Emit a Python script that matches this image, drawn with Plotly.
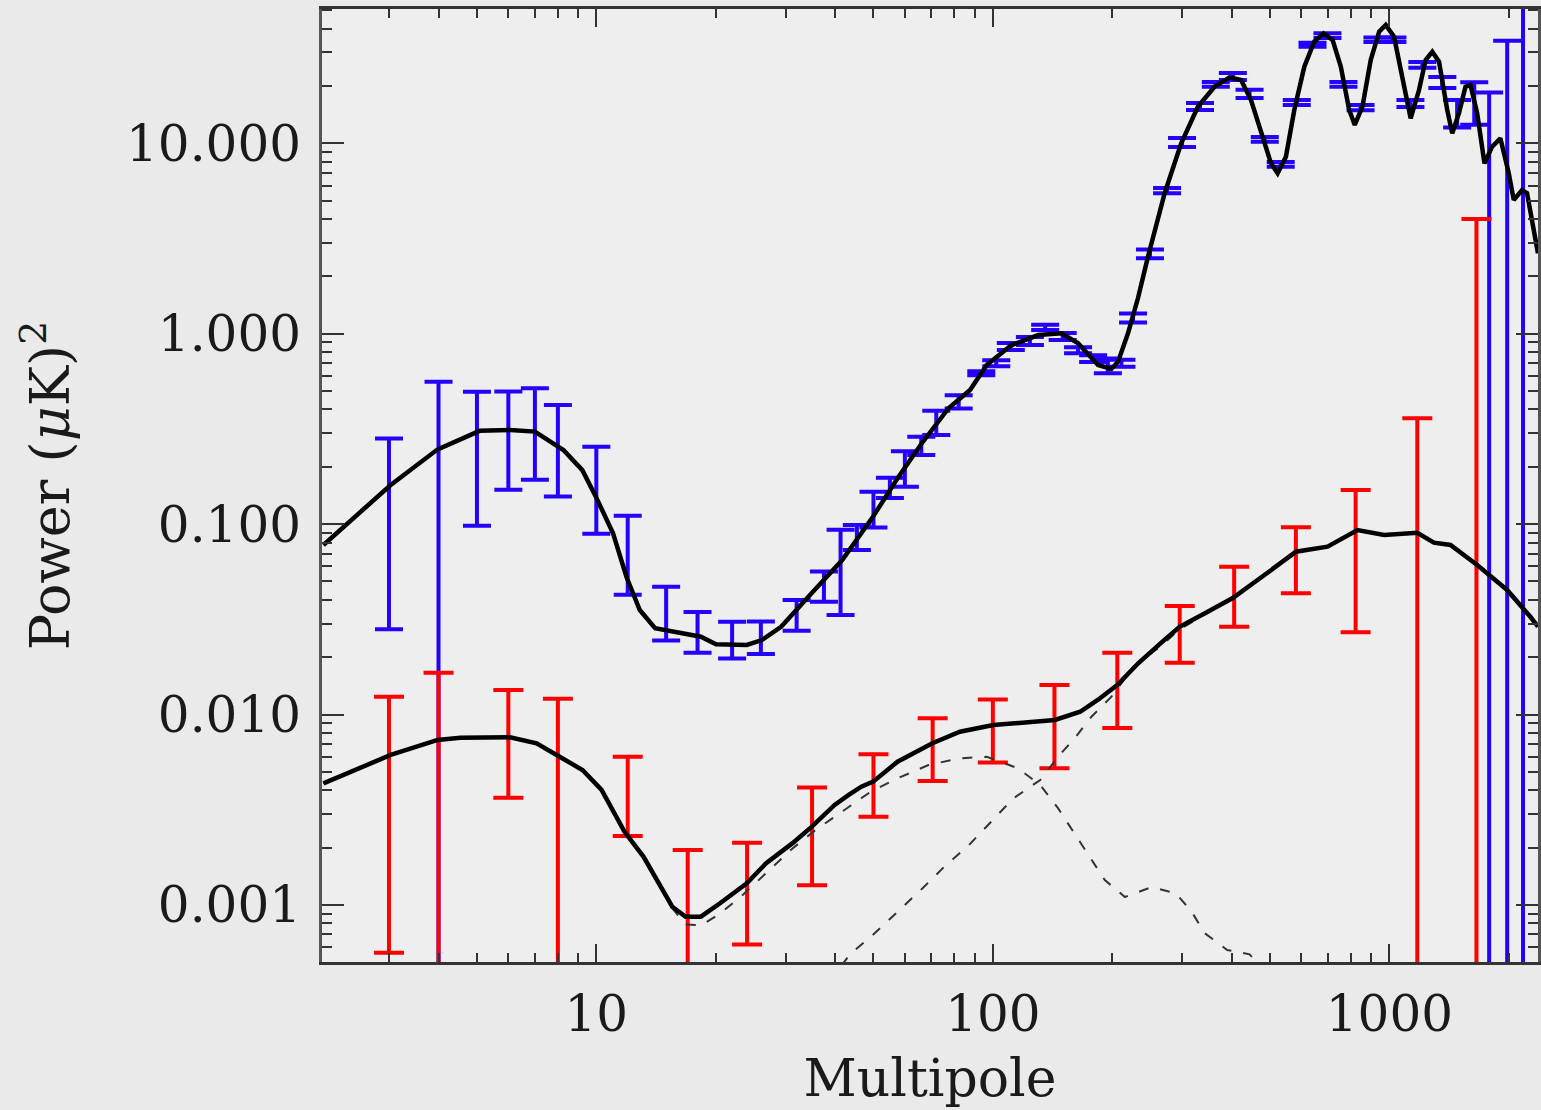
import plotly.graph_objects as go

# ---------------- data ----------------
# Binned EE band powers (blue) : multipole, value, 1-sigma error
ee_bin_ell = [3, 4, 5, 6, 7, 8, 10, 12, 15, 18, 22, 26, 32, 37.5, 41.3, 45.4, 50, 55, 60, 66,
              72, 82, 93.5, 102, 111, 124, 135.5, 150, 164, 179, 195, 211, 225.7, 249, 275, 300,
              333, 365, 403, 444, 485, 532, 584, 640, 698, 766, 846, 933, 1018, 1130, 1211, 1360,
              1482, 1637, 1785, 1982, 2173]
ee_bin_val = [0.155, 0.25, 0.297, 0.324, 0.344, 0.281, 0.172, 0.0766, 0.0357, 0.0278, 0.0252,
              0.0258, 0.0337, 0.0477, 0.0633, 0.086, 0.122, 0.156, 0.199, 0.259, 0.344, 0.44,
              0.62, 0.70, 0.857, 0.917, 1.08, 0.968, 0.82, 0.74, 0.68, 0.70, 1.21, 2.63, 5.65,
              10.1, 15.6, 20.4, 22.45, 18.2, 10.5, 7.75, 16.4, 32.9, 36.8, 20.4, 15.4, 35.0, 35.0,
              16.2, 25.8, 20.9, 14.5, 16.7, 8.0, 5.9, 6.3]
ee_bin_err = [0.127, 0.31, 0.199, 0.1725, 0.173, 0.1415, 0.083, 0.034, 0.0112, 0.0067, 0.0055,
              0.005, 0.0062, 0.0086, 0.030, 0.0129, 0.026, 0.019, 0.042, 0.0286, 0.05, 0.035,
              0.015, 0.026, 0.037, 0.045, 0.033, 0.04, 0.03, 0.03, 0.06, 0.03, 0.066, 0.14, 0.18,
              0.55, 0.66, 0.6, 0.95, 0.9, 0.3, 0.23, 0.5, 0.8, 1.1, 0.6, 0.5, 1.0, 1.0, 0.7, 0.9,
              1.4, 2.4, 4.2, 10.5, 28.7, 60]

# Binned BB band powers (red)
bb_bin_ell = [3, 4, 6, 8, 12, 17, 24, 35, 50, 70.5, 100, 143, 206, 296, 406, 581, 822, 1176, 1658]
bb_bin_val = [0.00648, 0.00735, 0.00855, 0.0060, 0.00415, 0.00085, 0.00137, 0.0027, 0.00454,
              0.00701, 0.0088, 0.00975, 0.0148, 0.0279, 0.0443, 0.0698, 0.089, 0.09, 0.055]
bb_bin_err = [0.00592, 0.0092, 0.0049, 0.0061, 0.00185, 0.00109, 0.00075, 0.00143, 0.00164,
              0.00254, 0.0032, 0.00453, 0.0063, 0.0092, 0.0154, 0.0265, 0.062, 0.27, 3.95]

# EE model curve (solid black, upper)
ee_ell = [2.05, 3.03, 3.98, 5.08, 6.06, 7.0, 8.26, 9.22, 9.98, 11.02, 11.91, 12.87, 14.07, 16.43,
          18.35, 20.04, 23.96, 26.16, 29.24, 34.9, 41.7, 49.8, 57.5, 66.2, 77.3, 87.6, 96.5,
          111.5, 130.2, 149, 164.1, 184.2, 199, 206.9, 219.2, 232.3, 246.2, 271.2, 298.5, 328.9,
          362.2, 395.2, 422.6, 447.8, 474.5, 502.8, 522.6, 548.4, 575.7, 610.2, 646.6, 682.3,
          719, 754.4, 791.9, 817.9, 855.2, 897.3, 942.3, 979, 1027.5, 1078.2, 1131.4, 1187.8,
          1234, 1283, 1334, 1399.5, 1440.6, 1497.4, 1555.7, 1601.5, 1665, 1737, 1816, 1905,
          2000, 2059, 2160, 2224, 2312, 2370]
ee_model = [0.0777, 0.1605, 0.247, 0.309, 0.312, 0.306, 0.245, 0.192, 0.139, 0.0894, 0.0529,
            0.0354, 0.0284, 0.0267, 0.0256, 0.0234, 0.0232, 0.0246, 0.0289, 0.0433, 0.0648,
            0.109, 0.174, 0.266, 0.406, 0.506, 0.685, 0.872, 0.984, 1.005, 0.890, 0.685, 0.653,
            0.713, 1.005, 1.54, 2.54, 5.47, 10.0, 15.57, 19.83, 22.22, 21.5, 16.88, 11.28, 7.85,
            6.96, 8.5, 14.96, 25.25, 34.2, 37.8, 34.9, 25.25, 14.96, 12.48, 15.57, 27.38, 38.55,
            41.8, 36.3, 22.38, 13.53, 19.05, 27.38, 30.27, 26.83, 14.96, 11.28, 14.38, 19.83,
            20.24, 14.38, 7.85, 9.6, 10.62, 6.96, 5.04, 5.68, 5.47, 3.50, 2.645]

# BB total model curve (solid black, lower)
bb_ell = [2.05, 3.03, 3.98, 4.54, 6.06, 7.07, 8.08, 9.23, 10.31, 11.78, 13.16, 14.38, 15.54,
          16.8, 18.35, 20.51, 23.96, 26.76, 31.25, 34.9, 39.9, 43.3, 46.6, 49.9, 57.5, 70.4,
          82.6, 100.3, 121.8, 143.4, 166.1, 184.2, 205.9, 232.6, 264.7, 295.8, 342.6, 402.7,
          484, 581.3, 698.2, 830.9, 969.8, 1176, 1295, 1426, 1665, 1981, 2267, 2370]
bb_model = [0.00435, 0.00613, 0.00735, 0.00755, 0.00759, 0.00706, 0.0060, 0.00511, 0.00402,
            0.00242, 0.00179, 0.0013, 0.000978, 0.000867, 0.000867, 0.00102, 0.0013, 0.00165,
            0.00211, 0.00257, 0.00335, 0.00378, 0.00418, 0.00444, 0.00565, 0.00706, 0.00812,
            0.00881, 0.00906, 0.00936, 0.01034, 0.01196, 0.01428, 0.01858, 0.02365, 0.0289,
            0.034, 0.0409, 0.054, 0.0716, 0.0761, 0.0931, 0.0876, 0.0901, 0.0799, 0.0777, 0.061,
            0.0451, 0.0326, 0.0289]

# Tensor (primordial) BB component (dashed)
tens_ell = [2.05, 3.03, 3.98, 4.54, 6.06, 7.07, 8.08, 9.23, 10.31, 11.78, 13.16, 14.38, 15.54,
            16.8, 18.35, 20.51, 23.43, 27.35, 31.25, 35.69, 41.7, 49.2, 57.5, 68.8, 82.6, 96.5,
            115.6, 131.7, 146, 159.8, 174.9, 191.6, 215.3, 251.4, 289.5, 317.3, 342.3, 390.1,
            444.1, 493.3]
tens_model = [0.00435, 0.00613, 0.00735, 0.00755, 0.00759, 0.00706, 0.0060, 0.00511, 0.00402,
              0.00242, 0.00179, 0.0013, 0.00096, 0.00079, 0.00078, 0.00090, 0.00113, 0.00153,
              0.00198, 0.00247, 0.00309, 0.00393, 0.00462, 0.00543, 0.00589, 0.0060, 0.00522,
              0.00426, 0.00322, 0.00242, 0.00179, 0.00135, 0.00110, 0.00124, 0.00115, 0.00092,
              0.00071, 0.00058, 0.00055, 0.00043]

# Lensing BB component (dashed)
lens_ell = [41.5, 43.85, 49.3, 57.5, 66.4, 75.5, 87.0, 99.1, 112.7, 131.7, 146, 162, 177.3,
            199.1, 226.5, 264.7, 295.8, 342.6, 402.7, 484, 581.3, 698.2, 830.9, 969.8, 1176,
            1295, 1426, 1665, 1981, 2267, 2370]
lens_model = [0.00048, 0.000557, 0.000681, 0.000921, 0.00122, 0.00159, 0.00206, 0.00274,
              0.00363, 0.00453, 0.0060, 0.00765, 0.00974, 0.0124, 0.0178, 0.0228, 0.0280,
              0.0335, 0.0405, 0.054, 0.0716, 0.0761, 0.0931, 0.0876, 0.0901, 0.0799, 0.0777,
              0.061, 0.0451, 0.0326, 0.0289]

x_tick_vals = [10, 100, 1000]
x_tick_text = ["10", "100", "1000"]
y_tick_vals = [0.001, 0.01, 0.1, 1, 10]
y_tick_text = ["0.001", "0.010", "0.100", "1.000", "10.000"]

# ---------------- styling ----------------
FONT = "DejaVu Serif"
BLUE = "#2400ff"
RED = "#ff0000"
AX = "#333333"
BG = "#eaeaea"

x_minor = [m * 10 ** e for e in range(0, 4) for m in range(2, 10)]
y_minor = [m * 10 ** e for e in range(-4, 2) for m in range(2, 10)]

fig = go.Figure()

fig.add_trace(go.Scatter(
    x=ee_bin_ell, y=ee_bin_val, mode="markers",
    marker=dict(size=1, opacity=0, color=BLUE),
    error_y=dict(type="data", array=ee_bin_err, symmetric=True,
                 color=BLUE, thickness=4, width=14),
    showlegend=False, hoverinfo="skip"))

fig.add_trace(go.Scatter(
    x=bb_bin_ell, y=bb_bin_val, mode="markers",
    marker=dict(size=1, opacity=0, color=RED),
    error_y=dict(type="data", array=bb_bin_err, symmetric=True,
                 color=RED, thickness=4, width=15),
    showlegend=False, hoverinfo="skip"))

for xs, ys in [(tens_ell, tens_model), (lens_ell, lens_model)]:
    fig.add_trace(go.Scatter(
        x=xs, y=ys, mode="lines",
        line=dict(color="#333333", width=2, dash="10px,12px"),
        showlegend=False, hoverinfo="skip"))

for xs, ys in [(ee_ell, ee_model), (bb_ell, bb_model)]:
    fig.add_trace(go.Scatter(
        x=xs, y=ys, mode="lines",
        line=dict(color="#000000", width=4.5),
        showlegend=False, hoverinfo="skip"))

fig.update_layout(
    width=1541, height=1110,
    margin=dict(l=322, r=0, t=9, b=148),
    paper_bgcolor=BG,
    plot_bgcolor="#eeeeee",
    font=dict(family=FONT, color="#1a1a1a"),
    xaxis=dict(
        type="log", range=[0.3082, 3.3748],
        tickmode="array", tickvals=x_tick_vals, ticktext=x_tick_text,
        ticks="inside", ticklen=18, tickwidth=2, tickcolor=AX,
        showline=True, linecolor=AX, linewidth=3, mirror="ticks",
        showgrid=False, zeroline=False,
        tickfont=dict(family=FONT, size=50, color="#1a1a1a"),
        ticklabelstandoff=6,
        minor=dict(tickmode="array", tickvals=x_minor, ticks="inside",
                   ticklen=9, tickwidth=2, tickcolor=AX, showgrid=False),
        title=dict(text="Multipole", font=dict(family=FONT, size=52, color="#1a1a1a"),
                   standoff=18),
    ),
    yaxis=dict(
        type="log", range=[-3.2999, 1.7054],
        tickmode="array", tickvals=y_tick_vals, ticktext=y_tick_text,
        ticks="inside", ticklen=22, tickwidth=2, tickcolor=AX,
        showline=True, linecolor="#555555", linewidth=3, mirror="ticks",
        showgrid=False, zeroline=False,
        tickfont=dict(family=FONT, size=50, color="#1a1a1a"),
        ticklabelstandoff=8,
        minor=dict(tickmode="array", tickvals=y_minor, ticks="inside",
                   ticklen=10, tickwidth=2, tickcolor=AX, showgrid=False),
        title=dict(text="Power (<i>μ</i>K)<sup>2</sup>",
                   font=dict(family=FONT, size=54, color="#1a1a1a"),
                   standoff=40),
    ),
)

# remove the default page margin so the figure sits at the window's top-left corner
page_css = ("document.body.style.margin='0';document.body.style.padding='0';"
            "document.body.style.overflow='hidden';"
            "document.body.style.background='" + BG + "';")
fig.write_html("out.html", post_script=page_css, config={"displayModeBar": False})
